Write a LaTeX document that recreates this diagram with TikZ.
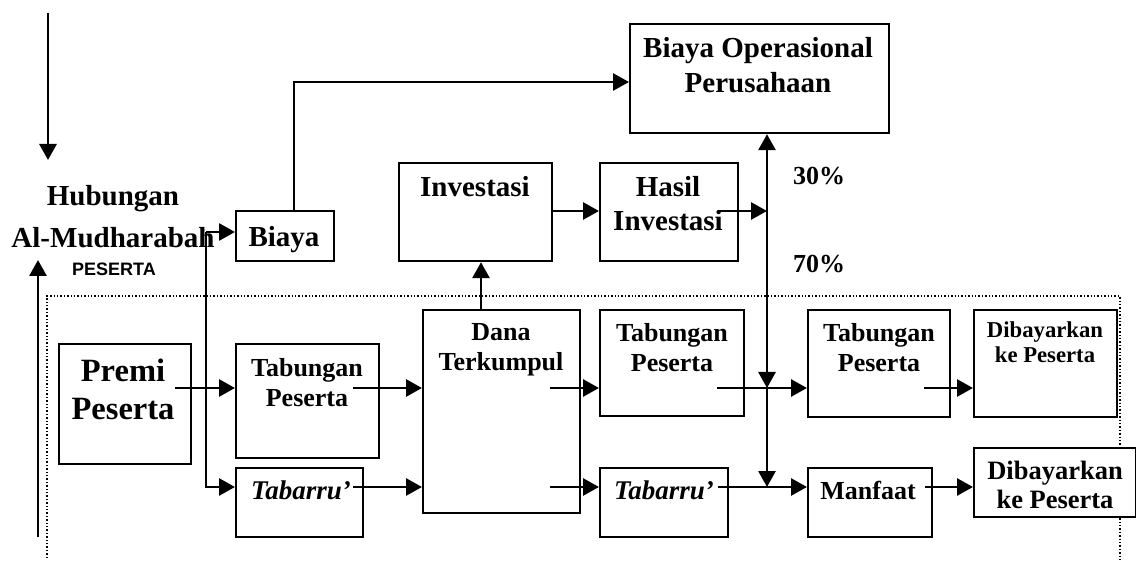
\documentclass[tikz,border=0pt]{standalone}
\usepackage{fontspec}
\setmainfont{Liberation Serif}
\setsansfont{Liberation Sans}
\usetikzlibrary{arrows.meta}

\begin{document}
\begin{tikzpicture}[x=1pt, y=-1pt,
    box/.style={draw, line width=2.2pt, fill=white, inner sep=0pt, anchor=north west},
    txt/.style={anchor=north, inner sep=0pt, align=center, font=\bfseries\fontsize{26}{30}\selectfont},
    big/.style={txt, font=\bfseries\fontsize{29}{35}\selectfont},
    arr/.style={line width=2.8pt, -{Triangle[length=16pt, width=17pt]}}]
  \useasboundingbox (0,0) rectangle (1136,561);

  % Dotted frame of the participant side (open at the bottom)
  \draw[dotted, line width=1.4pt] (47,558) -- (47,296) -- (1120,296) -- (1120,561);

  % Left arrows and heading
  \coordinate (top-a) at (48,13);
  \coordinate (top-b) at (48,160);
  \coordinate (bot-a) at (38,537);
  \coordinate (bot-b) at (38,260);
  \node[big, font=\bfseries\fontsize{29}{42}\selectfont] (hub) at (113,185) {Hubungan\\Al-Mudharabah};
  \node[anchor=north, inner sep=0pt, font=\sffamily\bfseries\fontsize{18}{20}\selectfont] (peserta) at (114,263) {PESERTA};

  % Company side
  \node[box, minimum width=98pt, minimum height=50pt] (biaya) at (235,210) {};
  \node[big] (biaya-t) at (284,226) {Biaya};
  \node[box, minimum width=259pt, minimum height=109pt] (opr) at (629,23) {};
  \node[big] (opr-t) at (758,37) {Biaya Operasional\\Perusahaan};
  \node[box, minimum width=153pt, minimum height=98pt] (inv) at (398,162) {};
  \node[big] (inv-t) at (475,176) {Investasi};
  \node[box, minimum width=138pt, minimum height=98pt] (hasil) at (599,162) {};
  \node[big, font=\bfseries\fontsize{29}{34}\selectfont] (hasil-t) at (668,176) {Hasil\\Investasi};
  \node[txt] (p30) at (819,167) {30\%};
  \node[txt] (p70) at (819,255) {70\%};

  % Participant side
  \node[box, minimum width=132pt, minimum height=120pt] (premi) at (58,343) {};
  \node[txt, font=\bfseries\fontsize{32.5}{38}\selectfont] (premi-t) at (123,359) {Premi\\Peserta};
  \node[box, minimum width=143pt, minimum height=114pt] (tab1) at (235,343) {};
  \node[txt] (tab1-t) at (307,358) {Tabungan\\Peserta};
  \node[box, minimum width=127pt, minimum height=69pt] (tbr1) at (235,467) {};
  \node[txt, font=\bfseries\itshape\fontsize{27}{30}\selectfont] (tbr1-t) at (301,481) {Tabarru’};
  \node[box, minimum width=157pt, minimum height=203pt] (dana) at (422,309) {};
  \node[txt] (dana-t) at (501,323) {Dana\\Terkumpul};
  \node[box, minimum width=144pt, minimum height=106pt] (tab2) at (599,309) {};
  \node[txt] (tab2-t) at (672,323) {Tabungan\\Peserta};
  \node[box, minimum width=128pt, minimum height=69pt] (tbr2) at (599,467) {};
  \node[txt, font=\bfseries\itshape\fontsize{27}{30}\selectfont] (tbr2-t) at (664,481) {Tabarru’};
  \node[box, minimum width=142pt, minimum height=107pt] (tab3) at (807,309) {};
  \node[txt] (tab3-t) at (879,323) {Tabungan\\Peserta};
  \node[box, minimum width=143pt, minimum height=107pt] (dib1) at (973,309) {};
  \node[txt, font=\bfseries\fontsize{22.7}{25}\selectfont] (dib1-t) at (1045,322) {Dibayarkan\\ke Peserta};
  \node[box, minimum width=124pt, minimum height=69pt] (manf) at (807,467) {};
  \node[txt] (manf-t) at (868,481) {Manfaat};
  \node[box, minimum width=162pt, minimum height=69pt] (dib2) at (973,447) {};
  \node[txt, font=\bfseries\fontsize{26.5}{29}\selectfont] (dib2-t) at (1055,461) {Dibayarkan\\ke Peserta};

  % Connector points
  \coordinate (split) at (206,232);
  \coordinate (jh) at (767,211);
  \coordinate (j1) at (767,388);
  \coordinate (j2) at (767,487);

  % Arrows
  \draw[arr] (top-a) -- (top-b);
  \draw[arr] (bot-a) -- (bot-b);
  \draw[arr] (split) -- (biaya.west |- split);
  \draw[arr] (split) |- (tbr1.west |- j2);
  \draw[arr] (294,210) |- (opr.west |- 0,82);
  \draw[arr] (175,388) -- (tab1.west |- j1);
  \draw[arr] (353,388) -- (dana.west |- j1);
  \draw[arr] (353,487) -- (dana.west |- j2);
  \draw[arr] (dana.north -| 481,0) -- (inv.south -| 481,0);
  \draw[arr] (inv.east |- jh) -- (hasil.west |- jh);
  \draw[arr] (718,211) -- (jh);
  \draw[arr] (jh) -- (opr.south -| jh);
  \draw[arr] (jh) -- (j1);
  \draw[arr] (j1) -- (j2);
  \draw[arr] (550,388) -- (tab2.west |- j1);
  \draw[arr] (550,487) -- (tbr2.west |- j2);
  \draw[arr] (717,388) -- (tab3.west |- j1);
  \draw[arr] (718,487) -- (manf.west |- j2);
  \draw[arr] (924,388) -- (dib1.west |- j1);
  \draw[arr] (925,487) -- (dib2.west |- j2);
\end{tikzpicture}
\end{document}
